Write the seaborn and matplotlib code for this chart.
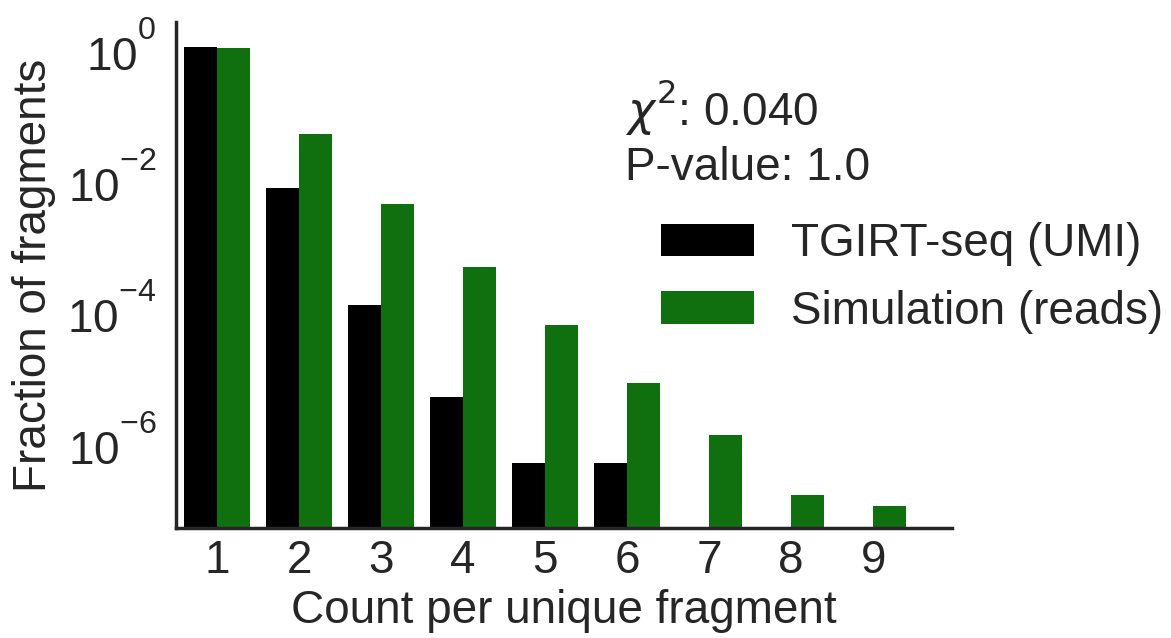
import matplotlib
matplotlib.use("Agg")
import matplotlib.pyplot as plt
import seaborn as sns
import pandas as pd
import numpy as np

# raise superscripts like the reference's older mathtext rendering
try:
    import matplotlib._mathtext as _mt
    _mt.FontConstantsBase.sup1 = 1.26
    _mt.DejaVuSansFontConstants.sup1 = 0.86
except Exception:
    pass

counts = [1, 2, 3, 4, 5, 6, 7, 8, 9]
tgirt_umi = [0.99, 7.2e-3, 1.15e-4, 4.7e-6, 4.5e-7, 4.5e-7, 0.0, 0.0, 0.0]
simulation = [0.96, 0.047, 4.1e-3, 4.4e-4, 5.8e-5, 7.6e-6, 1.22e-6, 1.5e-7, 1.0e-7]
series_names = ["TGIRT-seq (UMI)", "Simulation (reads)"]
colors = ["black", "green"]
stat_lines = ["$\\chi^2$: 0.040", "P-value: 1.0"]

df = pd.DataFrame({
    "count": counts * 2,
    "fraction": tgirt_umi + simulation,
    "source": [series_names[0]] * len(counts) + [series_names[1]] * len(counts),
})

sns.set_theme(style="white")
plt.rcParams["font.family"] = ["Liberation Sans", "DejaVu Sans"]
plt.rcParams["axes.edgecolor"] = "#262626"
plt.rcParams["text.color"] = "#262626"
plt.rcParams["xtick.color"] = "#262626"
plt.rcParams["ytick.color"] = "#262626"
plt.rcParams["axes.labelcolor"] = "#262626"

fs = 33
W, H = 1171, 638
fig = plt.figure(figsize=(W / 100, H / 100), dpi=100)
ax = fig.add_axes([176 / W, 1 - 528 / H, (952 - 176) / W, (528 - 22) / H])

sns.barplot(data=df, x="count", y="fraction", hue="source", hue_order=series_names,
            palette=colors, ax=ax, width=0.8, linewidth=0)
ax.set_yscale("log")
ax.set_ylim(4.66e-8, 2.40)
ax.set_xlim(-0.5, 8.96)
ax.set_yticks([1, 1e-2, 1e-4, 1e-6])
ax.yaxis.set_minor_locator(matplotlib.ticker.NullLocator())
ax.tick_params(axis="both", labelsize=fs, length=0)
ax.tick_params(axis="y", pad=14)
ax.tick_params(axis="x", pad=8)
ax.set_xlabel("Count per unique fragment", fontsize=fs, labelpad=4)
ax.set_ylabel("Fraction of fragments", fontsize=fs, labelpad=8)
for s in ["top", "right"]:
    ax.spines[s].set_visible(False)
for s in ["left", "bottom"]:
    ax.spines[s].set_linewidth(2.5)

fig.text(625 / W, 1 - 125 / H, stat_lines[0], fontsize=fs, va="baseline", ha="left")
fig.text(625 / W, 1 - 180 / H, stat_lines[1], fontsize=fs, va="baseline", ha="left")

leg = ax.legend(loc="upper left", fontsize=fs, frameon=False,
                handlelength=2.03, handleheight=0.72,
                handletextpad=0.8, labelspacing=0.52,
                borderpad=0.0, borderaxespad=0.0)
leg.set_bbox_to_anchor((661 / W, 1 - 222 / H), transform=fig.transFigure)

fig.savefig("out.png", dpi=100)
